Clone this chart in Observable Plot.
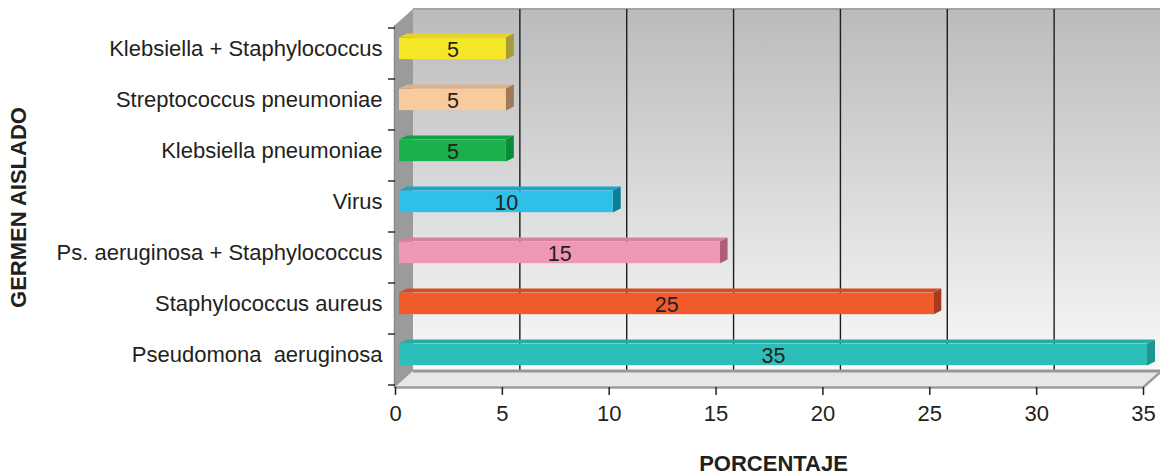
<!DOCTYPE html>
<html>
<head>
<meta charset="utf-8">
<script src="https://cdn.jsdelivr.net/npm/d3@7"></script>
<script src="https://cdn.jsdelivr.net/npm/@observablehq/plot@0.6"></script>
<style>
  html, body { margin: 0; padding: 0; background: #ffffff; }
  #chart svg { display: block; }
</style>
</head>
<body>
<div id="chart"></div>
<script>
// Germen aislado (top to bottom) and its percentage
const germenes = [
  "Klebsiella + Staphylococcus",
  "Streptococcus pneumoniae",
  "Klebsiella pneumoniae",
  "Virus",
  "Ps. aeruginosa + Staphylococcus",
  "Staphylococcus aureus",
  "Pseudomona  aeruginosa"
];
const porcentajes = [5, 5, 5, 10, 15, 25, 35];

// Face colours of each 3D bar: front, top, side
const coloresFrente = ["#f6e628", "#f8ca9c", "#1cb04b", "#2ec0e8", "#ee97b7", "#f15a2a", "#2ebeb9"];
const coloresTapa   = ["#e3d32a", "#e2b083", "#14a044", "#12a8d0", "#d9819f", "#d84a22", "#27aba5"];
const coloresLado   = ["#a89c36", "#9e7a58", "#0b8c3c", "#0b7e98", "#b25c7c", "#a83a22", "#1d9690"];

const xTicks = [0, 5, 10, 15, 20, 25, 30, 35];
const xMax = 35;

const datos = germenes.map((g, i) => ({
  germen: g,
  pct: porcentajes[i],
  frente: coloresFrente[i],
  tapa: coloresTapa[i],
  lado: coloresLado[i]
}));

// Perspective offsets
const pared = {dx: 18, dy: -16};   // depth of walls and floor
const barra = {dx: 4, dy: -5};     // bar front face sits slightly inside the box
const grosor = {dx: 8, dy: -4};    // bar depth
const altoBarra = 22;

const W = 1160, H = 475;
const mTop = 25, mBottom = 88, mLeft = 395, mRight = 17;

// Walls, floor and grid of the 3D box
function caja(index, scales, values, dims) {
  const {x} = scales;
  const x0 = x(0), x1 = x(xMax);
  const yT = dims.marginTop, yB = dims.height - dims.marginBottom;
  const g = d3.create("svg:g");

  const grad = g.append("defs").append("linearGradient")
    .attr("id", "fondo-pared").attr("x1", 0).attr("y1", 0).attr("x2", 0).attr("y2", 1);
  grad.append("stop").attr("offset", "0%").attr("stop-color", "#babbbd");
  grad.append("stop").attr("offset", "100%").attr("stop-color", "#f9f9f9");

  // back wall
  g.append("rect")
    .attr("x", x0 + pared.dx).attr("y", yT + pared.dy)
    .attr("width", x1 - x0 + 2).attr("height", yB - yT)
    .attr("fill", "url(#fondo-pared)");
  g.append("line")
    .attr("x1", x0 + pared.dx).attr("x2", x1 + pared.dx + 2)
    .attr("y1", yT + pared.dy).attr("y2", yT + pared.dy)
    .attr("stroke", "#a3a3a3").attr("stroke-width", 2);

  // grid lines on the back wall and across the floor
  const interiores = xTicks.filter(v => v > 0 && v < xMax);
  g.append("g").selectAll("path").data(interiores).join("path")
    .attr("d", v => `M${x(v)},${yB}L${x(v) + pared.dx},${yB + pared.dy}L${x(v) + pared.dx},${yT + pared.dy}`)
    .attr("fill", "none").attr("stroke", "#1e1e1e").attr("stroke-width", 1.4);

  // floor
  g.append("path")
    .attr("d", `M${x0},${yB}L${x0 + pared.dx},${yB + pared.dy}L${x1 + pared.dx + 2},${yB + pared.dy}L${x1 + 2},${yB}`)
    .attr("fill", "#e6e7e8");
  g.append("path")
    .attr("d", `M${x0 + pared.dx},${yB + pared.dy}L${x1 + pared.dx + 2},${yB + pared.dy}`)
    .attr("stroke", "#979797").attr("stroke-width", 3);
  g.append("path")
    .attr("d", `M${x0},${yB + 0.5}L${x1},${yB + 0.5}L${x1 + pared.dx},${yB + pared.dy + 0.5}`)
    .attr("fill", "none").attr("stroke", "#9c9c9c").attr("stroke-width", 2.5);

  // left wall
  g.append("path")
    .attr("d", `M${x0},${yT}L${x0 + pared.dx},${yT + pared.dy}L${x0 + pared.dx},${yB + pared.dy}L${x0},${yB}Z`)
    .attr("fill", "#9b9b9c");
  g.append("line")
    .attr("x1", x0 - 0.5).attr("x2", x0 - 0.5).attr("y1", yT).attr("y2", yB + 1)
    .attr("stroke", "#8a8a8a").attr("stroke-width", 1.5);

  return g.node();
}

// Category separators on the left edge
function separadores(index, scales, values, dims) {
  const {y} = scales;
  const paso = y(germenes[1]) - y(germenes[0]);
  const marcas = germenes.map(c => y(c)).concat([y(germenes[germenes.length - 1]) + paso]);
  const x0 = dims.marginLeft;
  const g = d3.create("svg:g");
  g.selectAll("line").data(marcas).join("line")
    .attr("x1", x0 - 7).attr("x2", x0).attr("y1", d => d).attr("y2", d => d)
    .attr("stroke", "#231f20").attr("stroke-width", 1.4);
  return g.node();
}

// Top and side faces of every bar
function caras(index, scales, values, dims) {
  const {x, y} = scales;
  const paso = y(germenes[1]) - y(germenes[0]);
  const g = d3.create("svg:g");
  for (const d of datos) {
    const yc = y(d.germen) + paso / 2 + barra.dy;
    const ya = yc - altoBarra / 2, yb = yc + altoBarra / 2;
    const xa = x(0) + barra.dx, xb = x(d.pct) + barra.dx;
    g.append("path")
      .attr("d", `M${xa},${ya}L${xa + grosor.dx},${ya + grosor.dy}L${xb + grosor.dx},${ya + grosor.dy}L${xb},${ya}Z`)
      .attr("fill", d.tapa);
    g.append("path")
      .attr("d", `M${xb},${ya}L${xb + grosor.dx},${ya + grosor.dy}L${xb + grosor.dx},${yb + grosor.dy}L${xb},${yb}Z`)
      .attr("fill", d.lado);
  }
  return g.node();
}

const paso = (H - mBottom - mTop) / germenes.length;
const inset = (paso - altoBarra) / 2;

const chart = Plot.plot({
  width: W,
  height: H,
  marginTop: mTop,
  marginBottom: mBottom,
  marginLeft: mLeft,
  marginRight: mRight,
  style: {
    fontFamily: "'Liberation Sans', Arial, sans-serif",
    fontSize: "22px",
    color: "#231f20",
    background: "#ffffff",
    overflow: "visible"
  },
  x: {domain: [0, xMax], axis: null},
  y: {domain: germenes, padding: 0, axis: null},
  marks: [
    caja,
    separadores,
    Plot.axisX({
      ticks: xTicks,
      tickSize: 8,
      tickPadding: 10,
      fontSize: 22,
      strokeWidth: 1.5,
      label: null
    }),
    caras,
    Plot.barX(datos, {
      x1: 0, x2: "pct", y: "germen",
      fill: "frente",
      dx: barra.dx, dy: barra.dy,
      insetTop: inset, insetBottom: inset
    }),
    Plot.text(datos, {
      x: d => d.pct / 2, y: "germen",
      text: d => String(d.pct),
      dx: barra.dx, dy: barra.dy + 1,
      fontSize: 21.5, fill: "#231f20"
    }),
    Plot.text(datos, {
      y: "germen", text: "germen",
      frameAnchor: "left", textAnchor: "end",
      dx: -13, dy: barra.dy,
      fontSize: 22, fill: "#231f20"
    }),
    Plot.text(["PORCENTAJE"], {
      text: d => d, frameAnchor: "bottom", textAnchor: "middle",
      dx: 4, dy: 83,
      fontSize: 22, fontWeight: "bold", fill: "#231f20"
    }),
    Plot.text(["GERMEN AISLADO"], {
      text: d => d, frameAnchor: "left", textAnchor: "middle",
      dx: -377, dy: 1, rotate: -90,
      fontSize: 22, fontWeight: "bold", fill: "#231f20"
    })
  ]
});

document.getElementById("chart").appendChild(chart);
</script>
</body>
</html>
